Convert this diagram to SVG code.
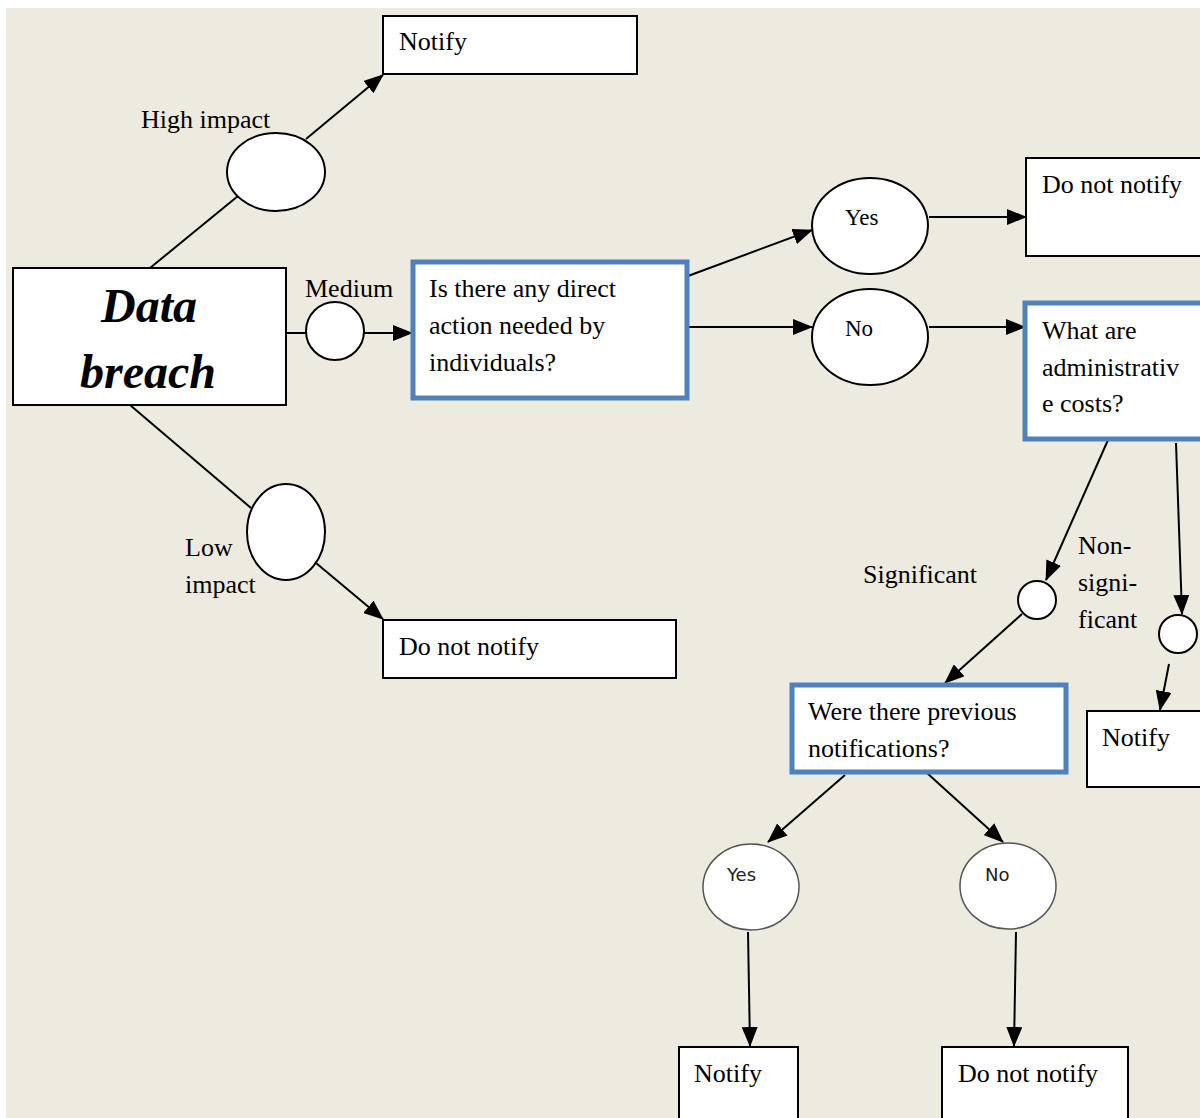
<svg xmlns="http://www.w3.org/2000/svg" width="1200" height="1118" viewBox="0 0 1200 1118">
<defs>
<marker id="ah" markerUnits="userSpaceOnUse" markerWidth="20" markerHeight="16" viewBox="0 0 20 16" refX="19" refY="8" orient="auto">
<path d="M0,0 L20,8 L0,16 Z" fill="#000"/>
</marker>
<style>
.t{font-family:"Liberation Serif","Times New Roman",serif;font-size:26px;fill:#000}
.tm{font-family:"Liberation Serif","Times New Roman",serif;font-size:23px;fill:#000}
.ts{font-family:"DejaVu Sans",Verdana,sans-serif;font-size:18px;fill:#222}
.big{font-family:"Liberation Serif","Times New Roman",serif;font-size:48px;font-weight:bold;font-style:italic;fill:#000}
.box{fill:#fff;stroke:#000;stroke-width:2}
.q{fill:#fff;stroke:#4F81BD;stroke-width:5}
.el{fill:#fff;stroke:#000;stroke-width:2}
.elg{fill:#fff;stroke:#555;stroke-width:1.5}
.c{stroke:#000;stroke-width:2;fill:none}
.ca{stroke:#000;stroke-width:2;fill:none;marker-end:url(#ah)}
</style>
</defs>
<rect x="0" y="0" width="1200" height="1118" fill="#fff"/>
<rect x="6" y="8" width="1194" height="1110" fill="#EDEBE0"/>

<g id="connectors">
<line class="c" x1="150" y1="268" x2="238" y2="196"/>
<line class="ca" x1="306" y1="139" x2="383" y2="75"/>
<line class="c" x1="286" y1="333" x2="306" y2="333"/>
<line class="ca" x1="364" y1="333" x2="412" y2="333"/>
<line class="c" x1="130" y1="405" x2="251" y2="508"/>
<line class="ca" x1="316" y1="563" x2="383" y2="619"/>
<line class="ca" x1="688" y1="276" x2="812" y2="230"/>
<line class="ca" x1="929" y1="217" x2="1026" y2="217"/>
<line class="ca" x1="688" y1="327" x2="812" y2="327"/>
<line class="ca" x1="929" y1="327" x2="1025" y2="327"/>
<line class="ca" x1="1108" y1="440" x2="1046" y2="580"/>
<line class="ca" x1="1022" y1="614" x2="945" y2="683"/>
<line class="ca" x1="1176" y1="443" x2="1182" y2="614"/>
<line class="ca" x1="1169" y1="664" x2="1160" y2="710"/>
<line class="ca" x1="845" y1="775" x2="768" y2="842"/>
<line class="ca" x1="927" y1="773" x2="1003" y2="842"/>
<line class="ca" x1="748" y1="932" x2="750" y2="1046"/>
<line class="ca" x1="1016" y1="932" x2="1014" y2="1046"/>
</g>

<g id="notify-top">
<rect class="box" x="383" y="16" width="254" height="58"/>
<text class="t" x="399" y="50">Notify</text>
</g>
<g id="high-impact">
<ellipse class="el" cx="276" cy="172" rx="49" ry="39"/>
<text class="t" x="141" y="128">High impact</text>
</g>
<g id="data-breach">
<rect class="box" x="13" y="268" width="273" height="137"/>
<text class="big" x="149" y="322" text-anchor="middle">Data</text>
<text class="big" x="148" y="388" text-anchor="middle">breach</text>
</g>
<g id="medium">
<circle class="el" cx="335" cy="331" r="29"/>
<text class="t" x="305" y="297">Medium</text>
</g>
<g id="q-direct-action">
<rect class="q" x="413" y="262" width="274" height="136"/>
<text class="t" x="429" y="297">Is there any direct</text>
<text class="t" x="429" y="334">action needed by</text>
<text class="t" x="429" y="371">individuals?</text>
</g>
<g id="low-impact">
<ellipse class="el" cx="286" cy="532" rx="39" ry="48"/>
<text class="t" x="185" y="556">Low</text>
<text class="t" x="185" y="593">impact</text>
</g>
<g id="do-not-notify-low">
<rect class="box" x="383" y="620" width="293" height="58"/>
<text class="t" x="399" y="655">Do not notify</text>
</g>
<g id="yes-1">
<ellipse class="el" cx="870" cy="226" rx="58" ry="48"/>
<text class="tm" x="845" y="225">Yes</text>
</g>
<g id="no-1">
<ellipse class="el" cx="870" cy="337" rx="58" ry="48"/>
<text class="tm" x="845" y="336">No</text>
</g>
<g id="do-not-notify-yes">
<rect class="box" x="1026" y="158" width="180" height="98"/>
<text class="t" x="1042" y="193">Do not notify</text>
</g>
<g id="q-admin-costs">
<rect class="q" x="1025" y="303" width="180" height="136"/>
<text class="t" x="1042" y="339">What are</text>
<text class="t" x="1042" y="376">administrativ</text>
<text class="t" x="1042" y="412">e costs?</text>
</g>
<g id="significant">
<circle class="el" cx="1037" cy="600" r="19"/>
<text class="t" x="863" y="583">Significant</text>
</g>
<g id="non-significant">
<circle class="el" cx="1178" cy="634" r="19"/>
<text class="t" x="1078" y="554">Non-</text>
<text class="t" x="1078" y="591">signi-</text>
<text class="t" x="1078" y="628">ficant</text>
</g>
<g id="notify-right">
<rect class="box" x="1087" y="711" width="120" height="76"/>
<text class="t" x="1102" y="746">Notify</text>
</g>
<g id="q-previous">
<rect class="q" x="792" y="685" width="274" height="87"/>
<text class="t" x="808" y="720">Were there previous</text>
<text class="t" x="808" y="757">notifications?</text>
</g>
<g id="yes-2">
<ellipse class="elg" cx="751" cy="887" rx="48" ry="43"/>
<text class="ts" x="727" y="881">Yes</text>
</g>
<g id="no-2">
<ellipse class="elg" cx="1008" cy="886" rx="48" ry="43"/>
<text class="ts" x="985" y="881">No</text>
</g>
<g id="notify-bottom">
<rect class="box" x="679" y="1047" width="119" height="80"/>
<text class="t" x="694" y="1082">Notify</text>
</g>
<g id="do-not-notify-bottom">
<rect class="box" x="942" y="1047" width="186" height="80"/>
<text class="t" x="958" y="1082">Do not notify</text>
</g>
</svg>
